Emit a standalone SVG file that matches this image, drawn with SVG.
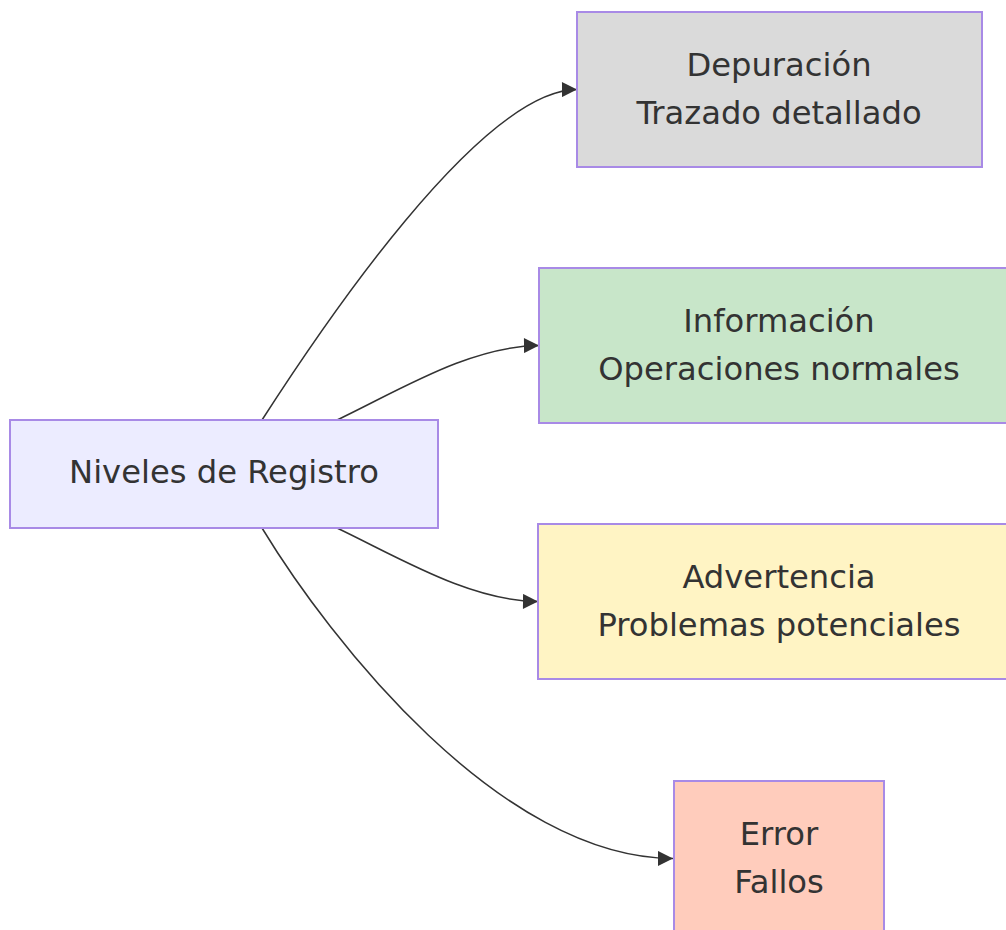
<svg xmlns="http://www.w3.org/2000/svg" width="1006" height="930" viewBox="0 0 1006 930">
<style>
.node rect{stroke:#a88ae6;stroke-width:2}
.node text{font-family:"DejaVu Sans",sans-serif;font-size:32.2px;fill:#333;text-anchor:middle}
.edge{fill:none;stroke:#333;stroke-width:1.5}
</style>
<defs>
<marker id="arrow" viewBox="0 0 10 10" refX="10" refY="5" markerUnits="userSpaceOnUse" markerWidth="16" markerHeight="15" orient="auto">
<path d="M0,0 L10,5 L0,10 z" fill="#333"/>
</marker>
</defs>
<rect width="1006" height="930" fill="#fff"/>
<g id="connectors">
<path class="edge" d="M262,420 C320,330 480,90 577,89.5" marker-end="url(#arrow)"/>
<path class="edge" d="M337,420 C400,390 470,346 539,345.5" marker-end="url(#arrow)"/>
<path class="edge" d="M337,528 C400,558 470,601 538,601.5" marker-end="url(#arrow)"/>
<path class="edge" d="M262,528 C330,640 500,858 673,858.5" marker-end="url(#arrow)"/>
</g>
<g id="niveles" class="node">
<rect x="10" y="420" width="428" height="108" fill="#ECECFF"/>
<text x="224" y="483">Niveles de Registro</text>
</g>
<g id="depuracion" class="node">
<rect x="577" y="12" width="405" height="155" fill="#DADADA"/>
<text x="779" y="76">Depuración</text>
<text x="779" y="124">Trazado detallado</text>
</g>
<g id="informacion" class="node">
<rect x="539" y="268" width="482" height="155" fill="#C8E6C9"/>
<text x="779" y="332">Información</text>
<text x="779" y="380">Operaciones normales</text>
</g>
<g id="advertencia" class="node">
<rect x="538" y="524" width="482" height="155" fill="#FFF4C4"/>
<text x="779" y="588">Advertencia</text>
<text x="779" y="636">Problemas potenciales</text>
</g>
<g id="error" class="node">
<rect x="674" y="781" width="210" height="155" fill="#FFCCBC"/>
<text x="779" y="845">Error</text>
<text x="779" y="893">Fallos</text>
</g>
</svg>
